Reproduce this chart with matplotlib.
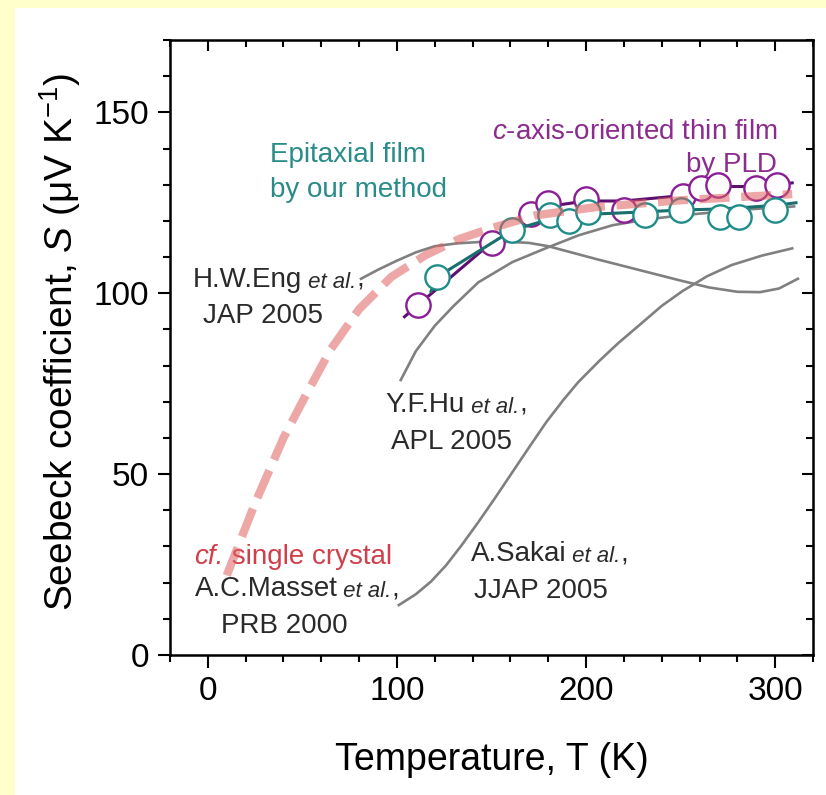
import numpy as np
import matplotlib
matplotlib.use('Agg')
import matplotlib.pyplot as plt
from matplotlib.patches import Rectangle
from matplotlib.ticker import MultipleLocator

plt.rcParams['font.family'] = ['Liberation Sans', 'DejaVu Sans']
plt.rcParams['mathtext.fontset'] = 'custom'
plt.rcParams['mathtext.rm'] = 'Liberation Sans'
plt.rcParams['mathtext.it'] = 'Liberation Sans:italic'

# c-axis-oriented thin film by PLD
pld_T = [111, 150, 171, 180, 200, 220, 251, 261, 270, 290, 301]
pld_S = [96.7, 114, 122, 125, 126, 123, 127, 129, 130, 129, 130]
pld_line_T = [104, 111, 150, 171, 180, 200, 220, 251, 261, 270, 290, 301, 309]
pld_line_S = [93.5, 96.7, 114, 121.5, 124, 125.5, 125.5, 127, 128.5, 129.5, 129.5, 130, 130.5]

# epitaxial film by our method
epi_T = [121, 161, 181, 191, 201, 231, 250, 271, 281, 300]
epi_S = [104.4, 117.4, 121.5, 120, 122.4, 121.5, 123, 121, 121, 123]
epi_line_T = [118, 121, 161, 181, 191, 201, 231, 250, 271, 281, 300, 311]
epi_line_S = [100.5, 104.4, 117.4, 120.5, 121, 121.8, 122.5, 123, 123.3, 123.6, 124.3, 125]

# cf. single crystal (Masset, PRB 2000)
masset_T = [10, 25, 40, 52, 65, 80, 97, 115, 133, 150, 173, 205, 250, 309]
masset_S = [22, 42, 60, 72, 84.5, 95.6, 104.5, 110.5, 115, 118, 121.5, 123.8, 125.7, 127.4]

# H.W.Eng, JAP 2005
eng_T = [81, 90, 100, 110, 120, 132, 145, 160, 170, 180, 190, 205, 220, 235, 250, 265,
         280, 292, 302, 312]
eng_S = [104, 106.5, 109, 111.3, 113, 113.8, 114.2, 114.2, 113.9, 113, 111.6, 109.5, 107.5,
         105.5, 103.5, 101.6, 100.4, 100.3, 101.3, 104]

# Y.F.Hu, APL 2005
hu_T = [102, 110, 120, 130, 143, 161, 179, 196, 214, 232, 250, 280, 310]
hu_S = [76, 84, 91, 96.5, 103, 108.6, 112.5, 116, 118.8, 120.4, 121.5, 123, 124]

# A.Sakai, JJAP 2005
sakai_T = [101, 110, 118, 126, 134, 143, 152, 161, 170, 179, 188, 196, 207, 217, 230, 240,
           251, 264, 277, 293, 309]
sakai_S = [13.8, 16.8, 20.3, 24.8, 30.2, 36.7, 43.5, 50.5, 57.5, 64.4, 70.5, 75.5, 81.3,
           86.2, 92, 96.5, 100.6, 104.7, 107.8, 110.4, 112.4]

fig = plt.figure(figsize=(8.26, 7.95), dpi=100)
fig.patch.set_facecolor('#FFFFCC')
fig.add_artist(Rectangle((15 / 826, 0), 1, 1 - 8 / 795, transform=fig.transFigure,
                         facecolor='white', edgecolor='none', zorder=-10))

ax = fig.add_axes([170 / 826, 1 - 655 / 795, (813 - 170) / 826, (655 - 40) / 795])
ax.set_facecolor('white')

gray = '#808080'
ax.plot(eng_T, eng_S, color=gray, lw=1.9)
ax.plot(hu_T, hu_S, color=gray, lw=1.9)
ax.plot(sakai_T, sakai_S, color=gray, lw=1.9)

ax.plot(pld_line_T, pld_line_S, color='#5E1070', lw=2.2, zorder=3)
ax.plot(pld_T, pld_S, 'o', ms=17.5, mfc='white', mec='#8A1E96', mew=1.7, zorder=4)
ax.plot(epi_line_T, epi_line_S, color='#1A6E6E', lw=2.2, zorder=5)
ax.plot(epi_T, epi_S, 'o', ms=17.5, mfc='white', mec='#1E8C88', mew=1.7, zorder=6)

ax.plot(masset_T, masset_S, color='#E06060', alpha=0.55, lw=6, dashes=(3.6, 1.4),
        solid_capstyle='butt', dash_capstyle='butt', zorder=7)

ax.set_xlim(-20, 320)
ax.set_ylim(0, 170)
ax.xaxis.set_major_locator(MultipleLocator(100))
ax.xaxis.set_minor_locator(MultipleLocator(20))
ax.yaxis.set_major_locator(MultipleLocator(50))
ax.yaxis.set_minor_locator(MultipleLocator(10))
ax.tick_params(which='both', direction='out', width=1.5, labelsize=24, pad=6)
ax.tick_params(which='major', length=9)
ax.tick_params(which='minor', length=5)
for sp in ax.spines.values():
    sp.set_linewidth(1.8)

secx = ax.secondary_xaxis('top')
secx.xaxis.set_major_locator(MultipleLocator(100))
secx.xaxis.set_minor_locator(MultipleLocator(20))
secx.tick_params(which='both', direction='in', width=1.5, labeltop=False)
secx.tick_params(which='major', length=8)
secx.tick_params(which='minor', length=5)
secy = ax.secondary_yaxis('right')
secy.yaxis.set_major_locator(MultipleLocator(50))
secy.yaxis.set_minor_locator(MultipleLocator(10))
secy.tick_params(which='both', direction='in', width=1.5, labelright=False)
secy.tick_params(which='major', length=8)
secy.tick_params(which='minor', length=5)

ax.set_xlabel('Temperature, T (K)', fontsize=27)
ax.xaxis.label.set_va('center')
ax.xaxis.set_label_coords(0.5, -0.17)
ax.set_ylabel(r'Seebeck coefficient, $\mathit{S}$ (μV K$^{-1}$)', fontsize=28)
ax.yaxis.label.set_va('center')
ax.yaxis.set_label_coords(-0.171, 0.51)

fs = 20
teal_txt = '#2A8C88'
purple_txt = '#8B2C8E'
dark = '#2A2A2A'

ax.text(301, 144.5, r'$\mathit{c}$-axis-oriented thin film', color=purple_txt, fontsize=fs,
        ha='right', va='center')
ax.text(301, 135.4, 'by PLD', color=purple_txt, fontsize=fs, ha='right', va='center')
ax.text(33, 138.1, 'Epitaxial film', color=teal_txt, fontsize=fs, va='center')
ax.text(33, 128.5, 'by our method', color=teal_txt, fontsize=fs, va='center')


def ref_label(x, y, name, journal, jx):
    t = ax.text(x, y, name, color=dark, fontsize=fs, va='bottom')
    t2 = ax.annotate(' et al.', xy=(1, 0), xycoords=t, color=dark, fontsize=fs * 0.8,
                     style='italic', va='bottom')
    ax.annotate(',', xy=(1, 0), xycoords=t2, color=dark, fontsize=fs, va='bottom')
    ax.text(jx, y - 10.2, journal, color=dark, fontsize=fs, va='bottom')


ref_label(-8, 100.2, 'H.W.Eng', 'JAP 2005', -2.7)
ref_label(94, 65.6, 'Y.F.Hu', 'APL 2005', 96.6)
ref_label(139, 24.2, 'A.Sakai', 'JJAP 2005', 140.6)
ref_label(-7, 14.6, 'A.C.Masset', 'PRB 2000', 6.9)

t = ax.text(-7, 27.1, 'cf.', color='#D0404A', fontsize=fs, style='italic', va='center')
ax.annotate(' single crystal', xy=(1, 0.5), xycoords=t, color='#D0404A', fontsize=fs,
            va='center')

fig.savefig('out.png', dpi=100, facecolor=fig.get_facecolor())
